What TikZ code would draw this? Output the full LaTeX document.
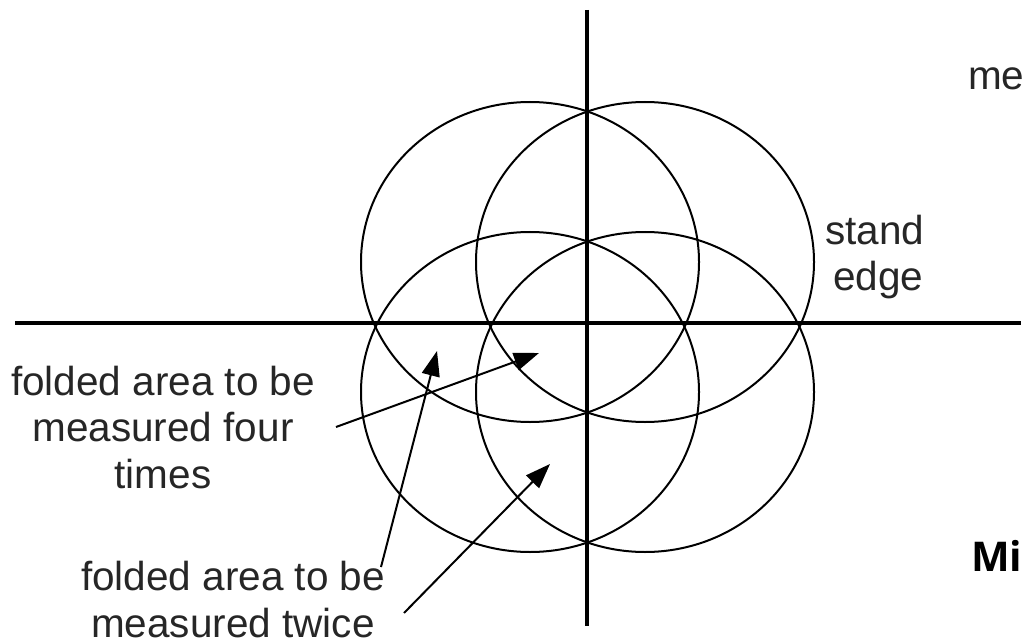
\documentclass[tikz,border=0pt]{standalone}
\usepackage{fontspec}
\setmainfont{Liberation Sans}
\newfontfamily\mifont{Open Sans}
\usetikzlibrary{arrows.meta}
\begin{document}
\begin{tikzpicture}[x=1pt,y=-1pt,
  axis/.style={line width=3.2pt},
  ring/.style={line width=2pt},
  pointer/.style={line width=2pt,-{Triangle[length=25pt,width=18pt]}},
  lbl/.style={font=\fontsize{40.5}{46.5}\selectfont, align=center, inner sep=0pt, text=black!85},
]
\useasboundingbox (0,0) rectangle (1024,644);
% axes
\coordinate (vt) at (587,10);
\coordinate (vb) at (587,626);
\coordinate (hl) at (15,323);
\coordinate (hr) at (1021,323);
\draw[axis] (vt) -- (vb);
\draw[axis] (hl) -- (hr);
% four overlapping circles
\draw[ring] (530,262) ellipse [x radius=169, y radius=160];
\draw[ring] (645,262) ellipse [x radius=169, y radius=160];
\draw[ring] (530,392) ellipse [x radius=169, y radius=160];
\draw[ring] (645,392) ellipse [x radius=169, y radius=160];
% labels (base anchor = baseline of last line)
\node[lbl, anchor=base] (four) at (163,488) {folded area to be\\measured four\\times};
\node[lbl, anchor=base] (twice) at (233,637) {folded area to be\\measured twice};
\node[lbl, anchor=base west] (stand) at (825,244) {stand};
\node[lbl, anchor=base west] (edge) at (833,290) {edge};
\node[lbl, anchor=base west] (me) at (968,90) {me};
\node[inner sep=0pt, anchor=base west, font=\mifont\bfseries\fontsize{41}{46}\selectfont] (mi) at (971,571) {Mi};
% arrows
\coordinate (a1s) at (336,427);
\coordinate (a1t) at (539,353);
\coordinate (a2s) at (381,567);
\coordinate (a2t) at (437,351);
\coordinate (a3s) at (404,613);
\coordinate (a3t) at (550,464);
\draw[pointer] (a1s) -- (a1t);
\draw[pointer] (a2s) -- (a2t);
\draw[pointer] (a3s) -- (a3t);
\end{tikzpicture}
\end{document}
